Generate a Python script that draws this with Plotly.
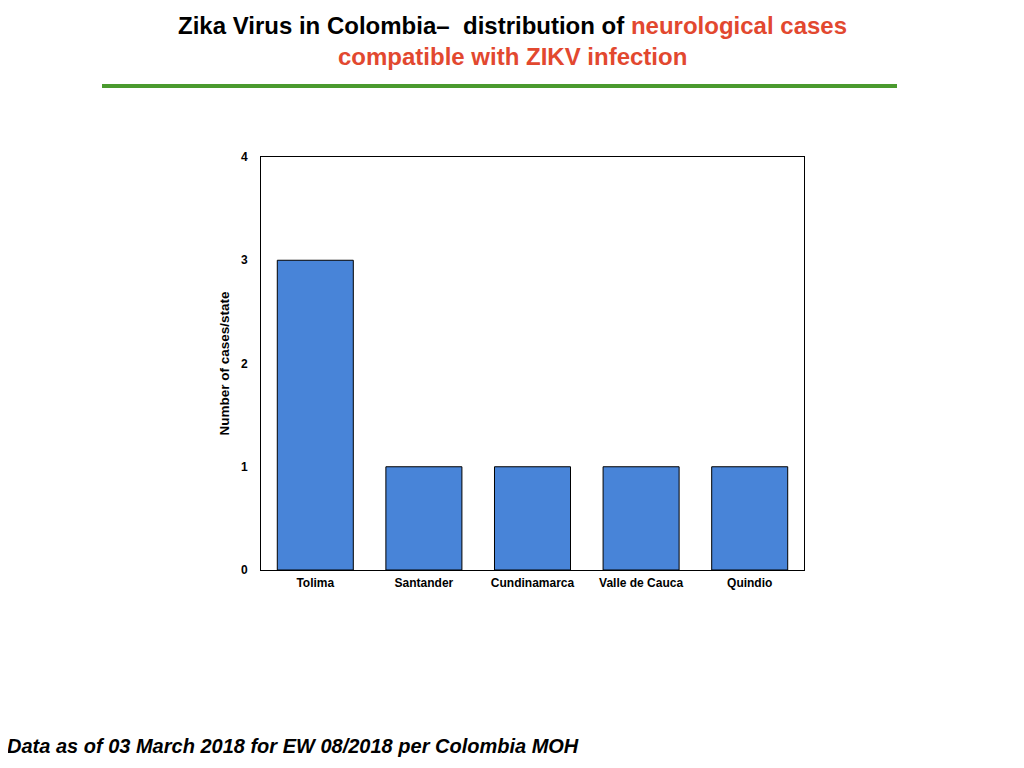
import plotly.graph_objects as go

states = ["Tolima", "Santander", "Cundinamarca", "Valle de Cauca", "Quindio"]
cases = [3, 1, 1, 1, 1]
y_ticks = [0, 1, 2, 3, 4]

title_black = "Zika Virus in Colombia–  distribution of "
title_red_1 = "neurological cases"
title_red_2 = "compatible with ZIKV infection"
footer = "Data as of 03 March 2018 for EW 08/2018 per Colombia MOH"

RED = "#E2482F"
GREEN = "#4A9A2E"
FONT = "Liberation Sans, Arial, sans-serif"

# page offset of 8px (browser body margin), plot area 261..804 x 157..570 in the screenshot
OFF = 8
PL, PR, PT, PB = 261 - OFF, 804 - OFF, 157 - OFF, 570 - OFF
PW, PH = PR - PL, PB - PT


def px(x):
    return (x - OFF - PL) / PW


def py(y):
    return (PB - (y - OFF)) / PH


fig = go.Figure()
fig.add_trace(go.Bar(
    x=states,
    y=cases,
    marker=dict(color="#4884D8", line=dict(color="black", width=1)),
    showlegend=False,
))

fig.update_layout(
    width=1024 - 2 * OFF,
    height=768 - 2 * OFF,
    margin=dict(l=PL, r=1024 - 2 * OFF - PR, t=PT, b=768 - 2 * OFF - PB),
    paper_bgcolor="white",
    plot_bgcolor="white",
    bargap=0.3,
    font=dict(family=FONT, color="black"),
    xaxis=dict(
        showline=True, linecolor="black", linewidth=1, mirror=True,
        ticks="", showgrid=False,
        tickfont=dict(size=12, family=FONT, weight="bold"),
        ticklabelstandoff=2,
    ),
    yaxis=dict(
        range=[0, 4], tickvals=y_ticks,
        showline=True, linecolor="black", linewidth=1, mirror=True,
        ticks="", showgrid=False, zeroline=False,
        tickfont=dict(size=12, family=FONT, weight="bold"),
        ticklabelstandoff=10,
        title=dict(text="<b>Number of cases/state</b>", font=dict(size=13.5), standoff=8),
    ),
    shapes=[dict(
        type="line", xref="paper", yref="paper",
        x0=px(102), x1=px(897), y0=py(86), y1=py(86),
        line=dict(color=GREEN, width=4),
    )],
    annotations=[
        dict(
            text=f"<b>{title_black}<span style='color:{RED}'>{title_red_1}</span></b>",
            xref="paper", yref="paper", x=px(512), y=py(25),
            xanchor="center", yanchor="middle", showarrow=False,
            font=dict(size=24, family=FONT, color="black"),
        ),
        dict(
            text=f"<b>{title_red_2}</b>",
            xref="paper", yref="paper", x=px(512), y=py(57),
            xanchor="center", yanchor="middle", showarrow=False,
            font=dict(size=24, family=FONT, color=RED),
        ),
        dict(
            text=f"<b><i>{footer}</i></b>",
            xref="paper", yref="paper", x=px(5), y=py(746),
            xanchor="left", yanchor="middle", showarrow=False,
            font=dict(size=20, family=FONT, color="black"),
        ),
    ],
)

fig.write_html("out.html")
